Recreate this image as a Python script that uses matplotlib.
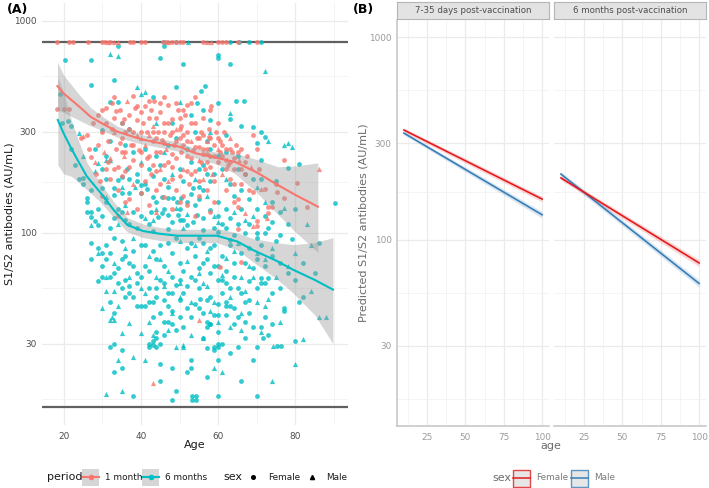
import matplotlib
matplotlib.use("Agg")
import matplotlib.pyplot as plt
from matplotlib.patches import Rectangle
from matplotlib.ticker import FixedLocator, NullFormatter

RED = "#F8766D"
CYAN = "#00BFC4"
F_RED = "#E41A1C"
M_BLUE = "#377EB8"

# ---- panel A: observed antibody levels (age, AU/mL) ----
one_month_female = [
    (18.2, 800), (21.3, 800), (22.3, 800), (26.2, 800), (30, 800), (30.6, 800), (32, 800), (37.3, 800),
    (38, 800), (40, 800), (41, 800), (45.8, 800), (46.8, 800), (48, 800), (49, 800), (50, 800), (51, 800),
    (56, 800), (60, 800), (61, 800), (62, 800), (65, 800), (70, 800),
    (18.2, 384), (20, 384), (21.3, 384), (24.4, 280), (26, 290), (26.5, 250), (27, 228), (27.5, 330),
    (28.5, 190), (29, 360), (29, 260), (29.5, 175), (30, 380), (30, 300), (30, 150), (31, 390), (31, 330),
    (31.5, 270), (32, 180), (32.5, 410), (33, 350), (33.5, 250), (34, 205), (34, 160), (34.5, 380),
    (35, 330), (35, 280), (36, 195), (36, 140), (37, 360), (37, 310), (37.5, 260), (38, 220), (38.5, 390),
    (39, 340), (39.5, 245), (40, 210), (40, 155), (40, 370), (34, 120), (33, 440), (38, 445), (35, 185),
    (31, 200), (37, 145), (39, 130),
    (40.5, 330), (41, 395), (41.5, 300), (42, 350), (42, 230), (42.5, 190), (43, 270), (43.5, 420),
    (44, 240), (44, 160), (44.5, 300), (45, 370), (45.5, 275), (46, 330), (46, 148), (47, 400), (47, 215),
    (47.5, 290), (48, 345), (48, 180), (48.5, 260), (49, 225), (49.5, 380), (50, 280), (50, 140),
    (50.5, 240), (42, 135), (46, 440), (48, 130), (45, 170), (43, 210), (41, 175), (49, 160), (50, 350),
    (44, 350), (46, 300), (48, 235),
    (50.5, 320), (51, 260), (51.5, 360), (52, 300), (52, 230), (52.5, 170), (53, 410), (53.5, 245),
    (54, 330), (54, 195), (54.5, 280), (55, 150), (55.5, 300), (56, 250), (56, 350), (56.5, 200),
    (57, 160), (57.5, 310), (58, 230), (58, 380), (59, 260), (59, 140), (59.5, 300), (60, 215), (52, 135),
    (54, 120), (56, 290), (58, 280), (53, 190), (55, 255), (57, 215), (59, 175), (51, 150), (60, 330),
    (54, 440), (58, 125), (52, 400), (58.2, 397),
    (60.5, 270), (61, 230), (61.5, 300), (62, 250), (62, 160), (62.5, 210), (63, 180), (63.5, 240),
    (64, 200), (64, 140), (64.5, 260), (65, 145), (65, 133), (65, 104), (66, 170), (66, 250), (67, 190),
    (67.5, 230), (68, 160), (69, 156), (69, 290), (70, 114), (70, 108), (60.5, 69), (66, 73),
    (70.5, 200), (72, 161), (73, 124), (73, 133), (74, 133), (75, 170), (75.2, 156), (77, 146), (77, 220),
    (80.4, 172), (83, 133), (70, 250),
    (31.5, 215), (32.5, 310), (33.5, 375), (34.5, 265), (35.5, 345), (36, 240), (37, 205), (38, 300),
    (39, 395), (40, 240), (41.5, 225), (42.5, 380), (43, 300), (44, 280), (45, 240), (46, 210), (47, 330),
    (48, 300), (49, 270), (50, 310), (51, 290), (52, 270), (53, 225), (54, 255), (55, 280), (55.5, 215),
    (56, 235), (57, 250), (57.5, 285), (58, 205), (59, 230), (60, 280), (60.5, 240), (61, 260), (62, 220),
    (63, 250), (64, 225), (65, 240), (66, 200), (67, 215), (53, 330), (51, 380), (49, 410), (45, 410),
    (42, 420), (36, 300), (38, 260), (44, 195), (46, 265), (48, 205), (50, 185), (52, 195), (55, 175),
    (57, 235), (62, 200), (63, 215), (64, 170), (40, 300), (35, 240), (33, 200),
]
one_month_male = [
    (31.4, 800), (33, 800), (34, 800), (57.2, 800), (58.2, 800), (47, 800),
    (25, 287), (28, 215), (30.5, 240), (32, 225), (33, 300), (35.5, 230), (36.5, 420), (38, 170),
    (39, 290), (36.5, 125), (40, 280), (41, 260), (43, 320), (45, 200), (46.5, 250), (49, 310), (44, 125),
    (47, 175), (42, 290), (51, 200), (53, 270), (55, 220), (57, 270), (58.5, 190), (60, 250), (56, 180),
    (61, 190), (63, 280), (65.5, 220), (67, 124), (68.5, 205), (69, 108), (71, 161), (72.6, 118),
    (86, 200), (43.2, 19.6), (55, 39),
]
six_months_female = [
    (46, 800), (49, 800), (63, 800), (65.5, 800), (68, 800), (71, 800),
    (19, 450), (20.3, 655), (27.2, 655), (27, 500), (33, 527), (34, 760), (46, 762), (43, 440), (45, 670),
    (51, 625), (49, 490), (32, 415), (34, 415), (56.7, 494), (60, 690), (60, 670), (63, 625), (55.6, 467),
    (54.5, 410), (60, 410), (64.5, 420), (66.6, 420), (63, 345), (58, 340), (66, 320), (69, 315),
    (71, 300), (72, 283), (70, 265), (54, 300), (62, 290), (19.5, 330), (21, 338), (22, 320), (35, 330),
    (30, 305), (37, 310), (48, 330), (53, 360), (56, 380),
    (22, 250), (23, 210), (24, 180), (25, 181), (25, 170), (26, 146), (26, 140), (26, 126), (27, 126),
    (27, 119), (28, 114), (29, 109), (29, 129), (30, 163), (31, 230), (33, 151), (33, 163), (34, 178),
    (35, 184), (36.5, 200), (37, 154), (40, 168), (41, 170), (41.7, 161), (40, 154), (43, 148),
    (45.5, 148), (47, 146), (48.4, 146), (49.4, 140), (50.5, 146), (53, 153), (53.5, 163), (42.5, 126),
    (44.5, 119), (45.5, 124), (47, 122), (49.5, 122), (50, 115), (51, 115), (54.6, 122), (53.5, 113),
    (52, 109), (55, 200), (56, 210), (57, 190), (58, 175), (56, 160), (55, 145), (60, 140), (62, 130),
    (64, 150), (66, 160), (68, 145), (70, 130), (72, 120), (73, 105), (74, 112), (76, 125), (78, 203),
    (81, 212), (90.2, 138), (75, 175), (65, 110), (67, 100), (63, 118), (59, 105), (61, 110), (69, 180),
    (71, 220), (62, 240), (58, 250), (60, 230), (65, 200), (38, 240), (36, 260), (32, 270), (30, 200),
    (28, 250), (44, 230), (47, 260), (50, 200), (52, 250), (42, 200), (39, 190), (46, 180), (31, 140),
    (35, 125), (37, 110), (33, 118), (39, 105), (43, 102), (47, 104), (56, 103), (60, 101), (70, 100),
    (76, 98),
    (30, 120), (32, 105), (34, 130), (36, 115), (38, 125), (40, 120), (42, 110), (44, 140), (46, 130),
    (48, 112), (50, 130), (52, 140), (54, 135), (56, 118), (58, 128), (60, 120), (62, 105), (64, 98),
    (66, 130), (68, 110), (70, 95), (72, 100), (74, 140), (78, 110), (80, 130), (35, 155), (39, 175),
    (43, 185), (47, 165), (51, 175), (55, 165), (59, 190), (63, 170), (67, 190), (71, 180), (45, 210),
    (53, 215), (41, 250), (49, 280), (57, 270), (61, 200), (65, 230), (37, 180), (31, 180), (27, 160),
    (27, 90), (29, 85), (31, 88), (32, 80), (33, 95), (35, 92), (36, 78), (38, 82), (40, 88), (27, 75),
    (30, 70), (34, 68), (37, 72), (39, 65), (30, 61.6), (32, 61.6), (29, 59), (32, 47), (33, 42),
    (36, 60), (37, 56), (37, 52), (42, 55), (42, 47), (43, 47), (39, 45), (40, 45), (46, 38), (48, 37),
    (48, 43), (45, 60), (46, 58), (48, 62), (49, 57), (50, 60), (47, 52), (44, 75), (46, 70), (48, 80),
    (50, 72), (52, 85), (54, 78), (51, 66), (53, 62), (55, 68), (56, 90), (58, 85), (57, 75), (59, 70),
    (61, 78), (63, 88), (62, 66), (64, 72), (66, 80), (68, 85), (70, 75), (69, 68), (72, 70), (74, 78),
    (76, 72), (78, 65), (80, 60), (81, 47), (82, 50), (79, 94), (86, 90), (55, 55), (55.4, 49), (58, 50),
    (60, 46), (62, 47), (62, 45), (64, 44), (68, 42), (67, 47), (77, 44), (77, 43), (72, 40), (59, 41),
    (60, 41), (62, 41), (60, 60), (61, 60), (63, 55), (65, 55), (68, 59), (71, 61), (71, 58), (73, 61),
    (50, 48), (52, 44), (53, 40), (51, 52), (54, 46), (57, 38), (58, 37), (56, 42), (53, 90), (49, 95),
    (45, 88), (43, 82), (41, 70), (35, 55), (38, 50), (44, 50), (47, 45), (30, 80),
    (31, 75), (33, 65), (35, 75), (38, 70), (40, 62), (42, 66), (44, 55), (46, 48), (48, 52), (50, 40),
    (52, 56), (54, 60), (56, 72), (58, 65), (60, 70), (62, 58), (64, 62), (66, 52), (68, 48), (70, 55),
    (72, 58), (74, 52), (76, 55), (34, 58), (36, 50), (39, 58), (41, 45), (43, 40), (45, 42), (47, 38),
    (49, 35), (51, 36), (55, 44), (57, 48), (61, 52), (63, 45), (65, 40), (67, 38), (69, 36), (73, 33),
    (41, 88), (47, 90), (55, 95), (59, 88), (63, 93), (67, 72), (71, 88), (75, 92), (82, 72), (85, 65),
    (32, 29), (33, 30), (35, 28), (35, 23), (33, 22), (38, 17), (42, 29), (42, 30), (43, 31), (44, 32),
    (44, 34), (45, 30), (44, 29), (43, 29.5), (46, 33), (45, 24), (45, 20), (49, 18), (48, 16.2),
    (53.3, 17), (54.3, 17), (53.3, 16.2), (54.3, 16.2), (48, 23), (53, 25), (52, 22), (53, 23), (57, 21),
    (57, 28.5), (60, 29), (60, 30), (59, 29), (59, 28), (60, 25), (61, 30), (63, 27), (65, 29), (69, 25),
    (70, 29), (71.6, 32), (67, 32), (71, 36), (64, 37), (60, 34), (58, 37), (57, 36), (56, 32), (74, 37),
    (75.2, 29.4), (76.3, 29.4), (80, 31), (66, 20), (70, 17), (60, 17),
]
six_months_male = [
    (52.3, 800), (32, 700), (34, 685), (39, 490), (40, 450), (41, 460), (50, 415), (63, 368), (73, 270),
    (78, 265), (79, 255), (72.1, 581), (24, 296), (77, 260), (44, 330), (58, 300),
    (27, 109), (28, 196), (29, 214), (31, 221), (32, 221), (31, 148), (35, 165), (38.5, 164), (44, 129),
    (49, 131), (52, 123), (77, 131), (57, 150), (62, 180), (67, 115), (70, 165), (72, 140), (36, 135),
    (41, 118), (46, 240), (54, 180), (59, 120), (64, 125), (83, 110), (25, 230), (40, 215), (48, 190),
    (34, 110), (43, 115), (51, 105), (60, 112), (69, 120), (38, 95), (45, 75), (54, 88), (64, 82),
    (72, 75), (37, 62), (50, 50), (57, 56), (63, 50), (68, 70), (42, 38), (53, 33), (60, 38), (66, 35),
    (76, 38),
    (31, 61.6), (31, 53), (33, 53), (30, 44), (34, 45), (40, 55), (41, 52), (48, 42), (56, 58), (59, 47),
    (66, 42), (70, 47), (72, 45), (73, 49), (67, 53), (75, 62), (69, 62), (66, 62), (84, 53), (84, 88),
    (29, 80), (33, 72), (36, 85), (42, 78), (47, 66), (52, 74), (57, 82), (62, 76), (65, 90), (70, 80),
    (74, 85), (78, 70), (80, 80), (50, 92), (55, 65), (44, 62), (61, 63), (46, 56), (50, 58), (53, 47),
    (58, 43),
    (32, 39), (33, 39), (37, 37.5), (35, 33.6), (34, 25), (31, 17.3), (35, 18), (38, 26), (41, 25),
    (40, 33.6), (49, 29), (51, 29), (51, 29.6), (59, 23), (61, 22), (63, 36), (56, 32), (71, 34),
    (74.2, 29.4), (82, 31.5), (80, 24), (74, 20), (86, 40), (88, 40), (32.5, 40), (43, 33), (47, 35),
]

# loess fits: age, fit, lower, upper
one_month_fit_age = [18.4, 20, 24, 27, 30, 34, 40, 45, 50, 54, 60, 64.4, 70, 75.5, 80, 85.8]
one_month_fit = [493, 455, 395, 353, 328, 300, 277, 265, 255, 238, 225, 216, 193, 168, 151, 133]
one_month_lo = [380, 370, 340, 320, 305, 282, 263, 253, 242, 226, 210, 190, 155, 122, 101, 81]
one_month_hi = [640, 555, 450, 390, 355, 318, 292, 278, 268, 250, 240, 238, 222, 205, 207, 214]

six_months_fit_age = [18.5, 20, 22, 23.6, 26, 29.5, 33, 36.5, 40.6, 45, 49.4, 55, 59.7, 65, 69, 75, 79.4, 85, 89.7]
six_months_fit = [341, 295, 250, 221, 185, 155, 128, 109, 102, 99, 97, 97, 97, 91, 83, 74, 67, 60, 54]
six_months_lo = [209, 190, 185, 175, 160, 140, 118, 101, 95, 92, 90, 90, 90, 83, 73, 61, 52, 41, 30]
six_months_hi = [545, 460, 340, 280, 215, 172, 140, 118, 110, 106, 104, 104, 105, 100, 94, 90, 88, 90, 95]

assay_limits = [15, 800]

# ---- panel B: model predictions ----
b_age = [10, 100]
early_female, early_female_lo, early_female_hi = [348, 159], [340, 154], [356, 164]
early_male, early_male_lo, early_male_hi = [336, 133], [329, 128], [343, 138]
late_female, late_female_lo, late_female_hi = [202, 77], [197, 74], [207, 80]
late_male, late_male_lo, late_male_hi = [211, 61], [205, 58.5], [217, 63.5]

y_breaks = [30, 100, 300, 1000]
y_minor = [16.4, 54.8, 173, 548]

W, H = 709, 488
fig = plt.figure(figsize=(W / 100, H / 100), dpi=100)
fig.patch.set_facecolor("white")


def box(x0, y0, x1, y1):
    # pixel box measured from the top-left corner -> figure fraction
    return [x0 / W, 1 - y1 / H, (x1 - x0) / W, (y1 - y0) / H]


def px(x, y):
    return x / W, 1 - y / H


def style(ax, label_color, ylim):
    for s in ax.spines.values():
        s.set_visible(False)
    ax.set_yscale("log")
    ax.set_ylim(*ylim)
    ax.yaxis.set_major_locator(FixedLocator(y_breaks))
    ax.yaxis.set_minor_locator(FixedLocator(y_minor))
    ax.yaxis.set_minor_formatter(NullFormatter())
    ax.set_yticklabels([str(b) for b in y_breaks])
    ax.tick_params(which="both", length=0, labelsize=6.4, labelcolor=label_color)
    ax.tick_params(axis="y", pad=4)
    ax.tick_params(axis="x", pad=5)
    ax.grid(which="major", color="#EBEBEB", lw=0.9)
    ax.grid(which="minor", color="#F0F0F0", lw=0.5)
    ax.set_axisbelow(True)


# ---------------- panel A ----------------
axA = fig.add_axes(box(42, 3, 348, 425))
style(axA, "#4D4D4D", (12.4, 1216))
axA.set_xlim(14.4, 93.6)
axA.set_xticks([20, 40, 60, 80])
axA.set_xticks([30, 50, 70, 90], minor=True)

for lim in assay_limits:
    axA.axhline(lim, color="#606060", lw=1.6, zorder=1)

for pts, col, mk in [(six_months_female, CYAN, "o"), (six_months_male, CYAN, "^"),
                     (one_month_female, RED, "o"), (one_month_male, RED, "^")]:
    a, v = zip(*pts)
    axA.scatter(a, v, s=12 if mk == "o" else 14, marker=mk, color=col, alpha=0.8,
                linewidths=0, zorder=2)

axA.fill_between(one_month_fit_age, one_month_lo, one_month_hi, color="#999999", alpha=0.4,
                 lw=0, zorder=3)
axA.fill_between(six_months_fit_age, six_months_lo, six_months_hi, color="#999999", alpha=0.4,
                 lw=0, zorder=3)
axA.plot(one_month_fit_age, one_month_fit, color=RED, lw=1.5, zorder=4)
axA.plot(six_months_fit_age, six_months_fit, color=CYAN, lw=1.5, zorder=4)

fig.text(*px(10, 214), "S1/S2 antibodies (AU/mL)", rotation=90, ha="center", va="center",
         fontsize=8, color="#1A1A1A")
fig.text(*px(195, 445), "Age", ha="center", va="center", fontsize=8, color="#1A1A1A")
fig.text(*px(7, 10), "(A)", ha="left", va="center", fontsize=9, fontweight="bold")

# ---------------- panel B ----------------
facets = [
    ("7-35 days post-vaccination", 397, 549,
     (early_female, early_female_lo, early_female_hi), (early_male, early_male_lo, early_male_hi)),
    ("6 months post-vaccination", 554, 706,
     (late_female, late_female_lo, late_female_hi), (late_male, late_male_lo, late_male_hi)),
]
for i, (title, x0, x1, fem, mal) in enumerate(facets):
    ax = fig.add_axes(box(x0, 20, x1, 426))
    style(ax, "#9A9A9A", (12.1, 1213))
    ax.set_xlim(5.5, 104.5)
    ax.set_xticks([25, 50, 75, 100])
    ax.set_xticks([12.5, 37.5, 62.5, 87.5], minor=True)
    ax.spines["bottom"].set_visible(True)
    ax.spines["bottom"].set_color("#C4C4C4")
    ax.spines["bottom"].set_linewidth(1.1)
    if i == 0:
        ax.spines["left"].set_visible(True)
        ax.spines["left"].set_color("#C4C4C4")
        ax.spines["left"].set_linewidth(1.1)
    else:
        ax.set_yticklabels([])
    for (mid, lo, hi), col in [(mal, M_BLUE), (fem, F_RED)]:
        ax.fill_between(b_age, lo, hi, color=col, alpha=0.18, lw=0)
        ax.plot(b_age, mid, color=col, lw=1.2)
    sax = fig.add_axes(box(x0, 2, x1, 19))
    sax.set_xticks([])
    sax.set_yticks([])
    sax.set_facecolor("#E3E3E3")
    for s in sax.spines.values():
        s.set_color("#B5B5B5")
        s.set_linewidth(0.8)
    sax.text(0.5, 0.5, title, ha="center", va="center", fontsize=6.2, color="#4D4D4D",
             transform=sax.transAxes)

fig.text(*px(363, 223), "Predicted S1/S2 antibodies (AU/mL)", rotation=90, ha="center",
         va="center", fontsize=8, color="#6B6B6B")
fig.text(*px(551, 446), "age", ha="center", va="center", fontsize=8, color="#6B6B6B")
fig.text(*px(353, 10), "(B)", ha="left", va="center", fontsize=9, fontweight="bold")

# ---------------- legends ----------------
leg = fig.add_axes([0, 0, 1, 1], zorder=10)
leg.set_xlim(0, W)
leg.set_ylim(H, 0)
leg.axis("off")
leg.patch.set_alpha(0)

leg.text(47, 477, "period", ha="left", va="center", fontsize=8, color="#1A1A1A")
for kx, col, lab in [(82, RED, "1 month"), (142, CYAN, "6 months")]:
    leg.add_patch(Rectangle((kx, 468.5), 17, 17, facecolor="#D6D6D6", edgecolor="none"))
    leg.plot([kx, kx + 17], [477, 477], color=col, lw=1.5)
    leg.plot([kx + 8.5], [477], "o", color=col, ms=3)
    leg.text(kx + 23, 477, lab, ha="left", va="center", fontsize=6.4, color="#1A1A1A")
leg.text(223, 477, "sex", ha="left", va="center", fontsize=8, color="#1A1A1A")
leg.plot([253], [477], "o", color="black", ms=2.6)
leg.text(268, 477, "Female", ha="left", va="center", fontsize=6.4, color="#1A1A1A")
leg.plot([312], [477], "^", color="black", ms=3)
leg.text(326, 477, "Male", ha="left", va="center", fontsize=6.4, color="#1A1A1A")

leg.text(492, 478, "sex", ha="left", va="center", fontsize=8, color="#6B6B6B")
for kx, col, lab in [(513, F_RED, "Female"), (571, M_BLUE, "Male")]:
    leg.add_patch(Rectangle((kx, 469.5), 17, 17, facecolor="#E0E0E0", edgecolor=col, lw=1,
                            alpha=0.8))
    leg.plot([kx, kx + 17], [478, 478], color=col, lw=1.1)
    leg.text(kx + 23, 478, lab, ha="left", va="center", fontsize=6.4, color="#7A7A7A")

fig.savefig("out.png", dpi=100)
